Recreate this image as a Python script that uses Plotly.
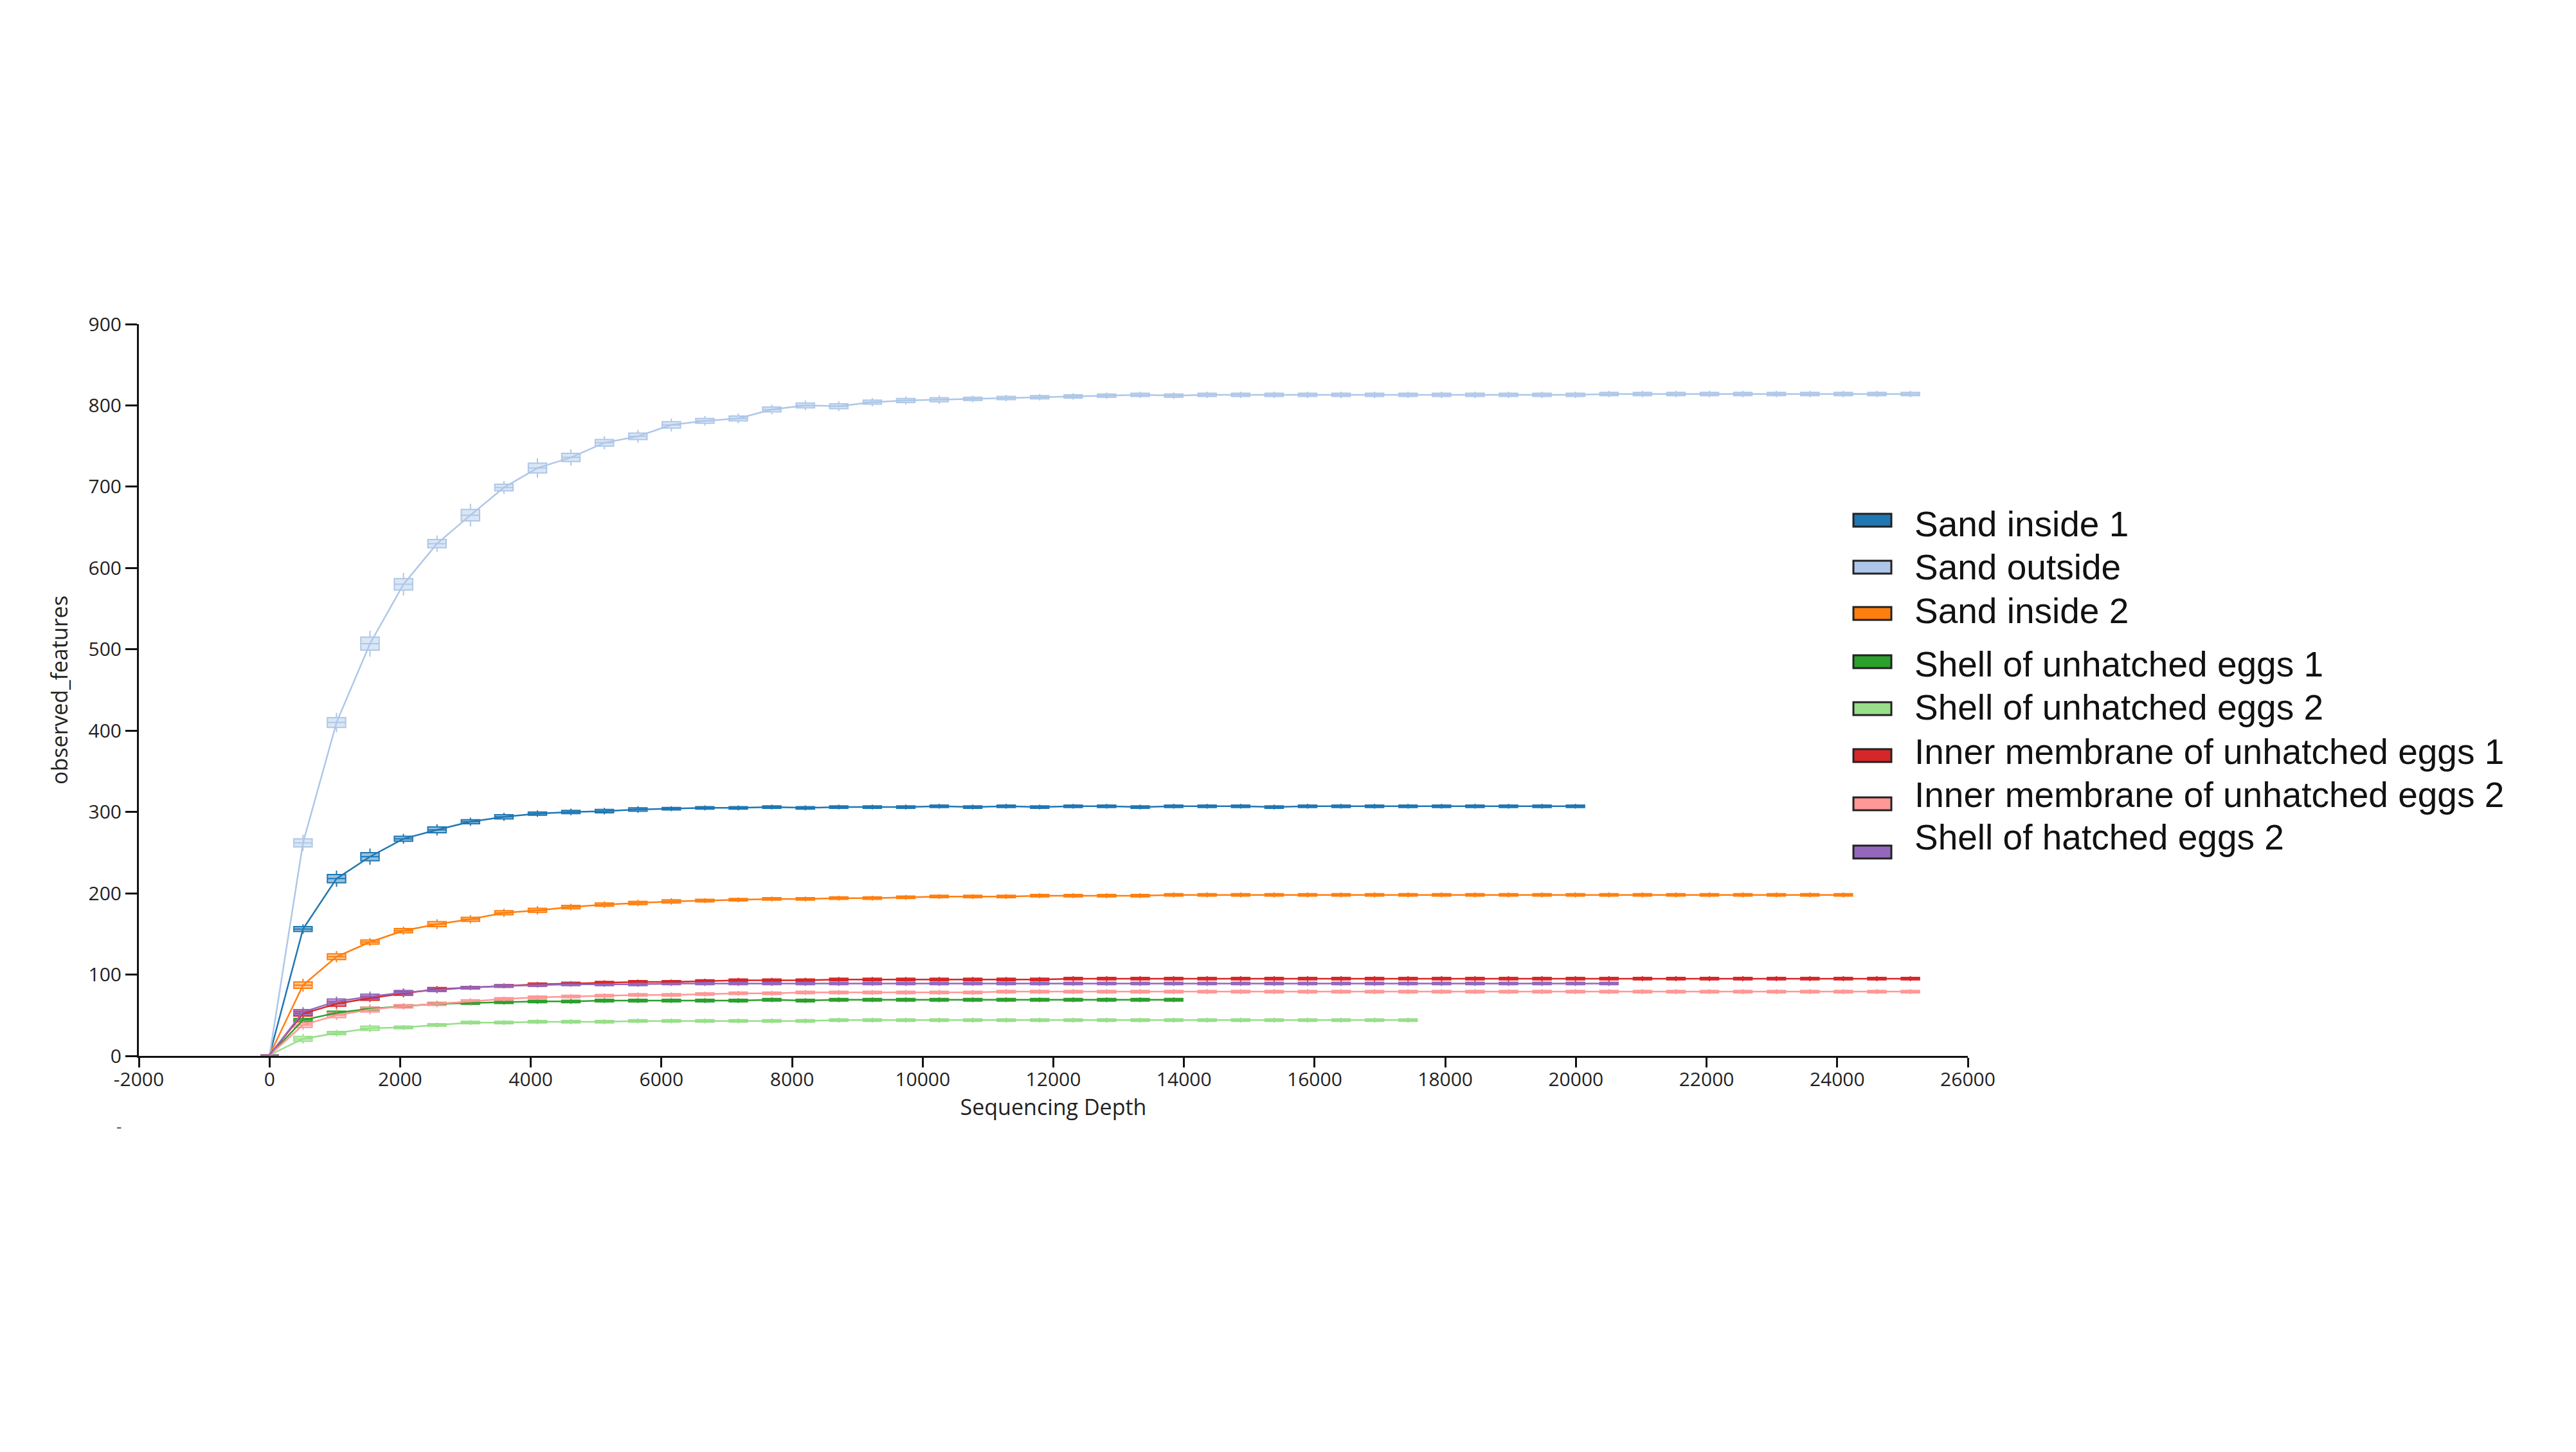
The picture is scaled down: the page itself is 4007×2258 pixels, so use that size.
import plotly.graph_objects as go

#### profundidades de rarefaccion (eje x)
depths = [1, 513, 1026, 1538, 2051, 2564, 3076, 3589, 4102, 4614, 5127, 5640, 6152, 6665, 7177,
          7690, 8203, 8715, 9228, 9741, 10253, 10766, 11278, 11791, 12304, 12816, 13329, 13842,
          14354, 14867, 15380, 15892, 16405, 16917, 17430, 17943, 18455, 18968, 19481, 19993,
          20506, 21019, 21531, 22044, 22556, 23069, 23582, 24094, 24607, 25120]

x_ticks = [-2000, 0, 2000, 4000, 6000, 8000, 10000, 12000, 14000, 16000, 18000, 20000, 22000, 24000, 26000]
x_labels = ["-2000", "0", "2000", "4000", "6000", "8000", "10000", "12000", "14000", "16000",
            "18000", "20000", "22000", "24000", "26000"]
y_ticks = [0, 100, 200, 300, 400, 500, 600, 700, 800, 900]

#### medianas observed_features por grupo
sand_inside_1 = [1, 156, 218, 245, 267, 278, 288, 294, 298, 300, 301, 303, 304, 305, 305, 306, 305,
                 306, 306, 306, 307, 306, 307, 306, 307, 307, 306, 307, 307, 307, 306, 307, 307, 307,
                 307, 307, 307, 307, 307, 307]
sand_outside = [1, 262, 410, 507, 580, 630, 665, 699, 723, 736, 754, 762, 776, 781, 784, 795, 800,
                799, 804, 806, 807, 808, 809, 810, 811, 812, 813, 812, 813, 813, 813, 813, 813, 813,
                813, 813, 813, 813, 813, 813, 814, 814, 814, 814, 814, 814, 814, 814, 814, 814]
sand_inside_2 = [1, 87, 122, 140, 154, 162, 168, 176, 179, 183, 186, 188, 190, 191, 192, 193, 193,
                 194, 194, 195, 196, 196, 196, 197, 197, 197, 197, 198, 198, 198, 198, 198, 198, 198,
                 198, 198, 198, 198, 198, 198, 198, 198, 198, 198, 198, 198, 198, 198]
shell_unhatched_1 = [1, 44, 53, 58, 61, 64, 65, 66, 67, 67, 68, 68, 68, 68, 68, 69, 68, 69, 69, 69,
                     69, 69, 69, 69, 69, 69, 69, 69]
shell_unhatched_2 = [1, 21, 28, 34, 35, 38, 41, 41, 42, 42, 42, 43, 43, 43, 43, 43, 43, 44, 44, 44,
                     44, 44, 44, 44, 44, 44, 44, 44, 44, 44, 44, 44, 44, 44, 44]
inner_membrane_1 = [1, 52, 64, 71, 77, 82, 84, 86, 88, 89, 90, 91, 91, 92, 93, 93, 93, 94, 94, 94,
                    94, 94, 94, 94, 95, 95, 95, 95, 95, 95, 95, 95, 95, 95, 95, 95, 95, 95, 95, 95,
                    95, 95, 95, 95, 95, 95, 95, 95, 95, 95]
inner_membrane_2 = [1, 38, 50, 57, 61, 64, 67, 70, 72, 73, 74, 75, 75, 76, 77, 77, 78, 78, 78, 78,
                    78, 78, 79, 79, 79, 79, 79, 79, 79, 79, 79, 79, 79, 79, 79, 79, 79, 79, 79, 79,
                    79, 79, 79, 79, 79, 79, 79, 79, 79, 79]
shell_hatched_2 = [1, 54, 67, 73, 78, 81, 84, 86, 87, 88, 88, 88, 89, 89, 89, 89, 89, 89, 89, 89,
                   89, 89, 89, 89, 89, 89, 89, 89, 89, 89, 89, 89, 89, 89, 89, 89, 89, 89, 89, 89, 89]

#### alto de cada caja (rango intercuartil aprox.)
sand_inside_1_iqr = [0, 6, 10, 10, 6, 7, 5, 5, 4, 4, 4, 4, 3, 3, 3, 3, 3, 3, 3, 3, 3, 3, 3, 3, 3,
                     3, 3, 3, 3, 3, 3, 3, 3, 3, 3, 3, 3, 3, 3, 3]
sand_outside_iqr = [0, 10, 12, 16, 14, 10, 14, 8, 12, 10, 8, 8, 8, 6, 6, 6, 6, 6, 5, 5, 5, 4, 4, 4,
                    4, 4, 4, 4, 4, 4, 4, 4, 4, 4, 4, 4, 4, 4, 4, 4, 4, 4, 4, 4, 4, 4, 4, 4, 4, 4]
sand_inside_2_iqr = [0, 8, 7, 5, 5, 6, 5, 5, 5, 4, 4, 4, 4, 3, 3, 3, 3, 3, 3, 3, 3, 3, 3, 3, 3, 3,
                     3, 3, 3, 3, 3, 3, 3, 3, 3, 3, 3, 3, 3, 3, 3, 3, 3, 3, 3, 3, 3, 3]
shell_unhatched_1_iqr = [0, 4, 4, 4, 3, 3, 3, 3, 3, 3, 3, 3, 3, 3, 3, 3, 3, 3, 3, 3, 3, 3, 3, 3, 3,
                         3, 3, 3]
shell_unhatched_2_iqr = [0, 6, 4, 5, 3, 3, 3, 3, 3, 3, 3, 3, 3, 3, 3, 3, 3, 3, 3, 3, 3, 3, 3, 3, 3,
                         3, 3, 3, 3, 3, 3, 3, 3, 3, 3]
inner_membrane_1_iqr = [0, 6, 6, 5, 5, 4, 3, 3, 3, 3, 3, 3, 3, 3, 3, 3, 3, 3, 3, 3, 3, 3, 3, 3, 3,
                        3, 3, 3, 3, 3, 3, 3, 3, 3, 3, 3, 3, 3, 3, 3, 3, 3, 3, 3, 3, 3, 3, 3, 3, 3]
inner_membrane_2_iqr = [0, 6, 6, 6, 4, 4, 4, 3, 3, 3, 3, 3, 3, 3, 3, 3, 3, 3, 3, 3, 3, 3, 3, 3, 3,
                        3, 3, 3, 3, 3, 3, 3, 3, 3, 3, 3, 3, 3, 3, 3, 3, 3, 3, 3, 3, 3, 3, 3, 3, 3]
shell_hatched_2_iqr = [0, 6, 6, 6, 5, 4, 3, 3, 3, 3, 3, 3, 3, 3, 3, 3, 3, 3, 3, 3, 3, 3, 3, 3, 3,
                       3, 3, 3, 3, 3, 3, 3, 3, 3, 3, 3, 3, 3, 3, 3, 3]

names = ["Sand inside 1", "Sand outside", "Sand inside 2", "Shell of unhatched eggs 1",
         "Shell of unhatched eggs 2", "Inner membrane of unhatched eggs 1",
         "Inner membrane of unhatched eggs 2", "Shell of hatched eggs 2"]
colors = ["#1f77b4", "#aec7e8", "#ff7f0e", "#2ca02c", "#98df8a", "#d62728", "#ff9896", "#9467bd"]
series = [sand_inside_1, sand_outside, sand_inside_2, shell_unhatched_1, shell_unhatched_2,
          inner_membrane_1, inner_membrane_2, shell_hatched_2]
iqrs = [sand_inside_1_iqr, sand_outside_iqr, sand_inside_2_iqr, shell_unhatched_1_iqr,
        shell_unhatched_2_iqr, inner_membrane_1_iqr, inner_membrane_2_iqr, shell_hatched_2_iqr]


def rgba(hx, a):
    hx = hx.lstrip("#")
    return "rgba(%d,%d,%d,%s)" % (int(hx[0:2], 16), int(hx[2:4], 16), int(hx[4:6], 16), a)


fig = go.Figure()
for nm, col, vals, iq in zip(names, colors, series, iqrs):
    xs = depths[:len(vals)]
    fig.add_trace(go.Scatter(x=xs, y=vals, mode="lines", name=nm, showlegend=False,
                             line=dict(color=col, width=2.5), hoverinfo="skip"))
    fig.add_trace(go.Box(x=xs, median=vals,
                         q1=[v - d / 2 for v, d in zip(vals, iq)],
                         q3=[v + d / 2 for v, d in zip(vals, iq)],
                         lowerfence=[v - d for v, d in zip(vals, iq)],
                         upperfence=[v + d for v, d in zip(vals, iq)],
                         width=280, whiskerwidth=0, boxpoints=False, showlegend=False,
                         line=dict(color=col, width=2), fillcolor=rgba(col, 0.45),
                         hoverinfo="skip"))

###### area del grafico en pixeles de la pagina (el body tiene 8px de margen)
L, R, T, B = 216, 3061, 504, 1642
W, H = R - L, B - T
OFF = 8

###### leyenda hecha a mano (cajitas + texto)
text_rows = [815, 882, 950, 1033, 1100, 1169, 1236, 1302]
swatch_rows = [809, 882, 954, 1029, 1102, 1175, 1250, 1325]
for nm, col, ty, sy in zip(names, colors, text_rows, swatch_rows):
    fig.add_shape(type="rect", xref="paper", yref="paper",
                  x0=(2883 - L) / W, x1=(2942 - L) / W,
                  y0=(B - sy - 10) / H, y1=(B - sy + 10) / H,
                  fillcolor=col, line=dict(color="#222222", width=3))
    fig.add_annotation(text=nm, xref="paper", yref="paper", x=(2976 - L) / W, y=(B - ty) / H,
                       xanchor="left", yanchor="middle", showarrow=False,
                       font=dict(family="Liberation Sans", size=55, color="#111111"))

fig.add_annotation(text="-", xref="paper", yref="paper", x=(179 - L) / W, y=(B - 1771) / H,
                   showarrow=False, font=dict(family="Open Sans", size=26, color="#555555"))

fig.update_layout(
    width=4007, height=2258,
    margin=dict(l=L - OFF, r=4007 - R + OFF, t=T - OFF, b=2258 - B + OFF),
    paper_bgcolor="white", plot_bgcolor="white",
    boxmode="overlay",
    font=dict(family="Open Sans", size=30, color="#222222"),
    xaxis=dict(range=[-2000, 26000], tickvals=x_ticks, ticktext=x_labels,
               showline=True, linecolor="#111111", linewidth=3, ticks="outside",
               ticklen=15, tickwidth=3, tickcolor="#111111", showgrid=False, zeroline=False,
               ticklabelstandoff=-7,
               tickfont=dict(family="Open Sans", size=30, color="#222222"),
               title=dict(text="Sequencing Depth", standoff=0,
                          font=dict(family="Open Sans", size=34, color="#222222"))),
    yaxis=dict(range=[0, 900], tickvals=y_ticks,
               showline=True, linecolor="#111111", linewidth=3, ticks="outside",
               ticklen=18, tickwidth=3, tickcolor="#111111", showgrid=False, zeroline=False,
               tickfont=dict(family="Open Sans", size=30, color="#222222"),
               title=dict(text="observed_features", standoff=22,
                          font=dict(family="Open Sans", size=34, color="#222222"))),
)

fig.write_html("out.html")
